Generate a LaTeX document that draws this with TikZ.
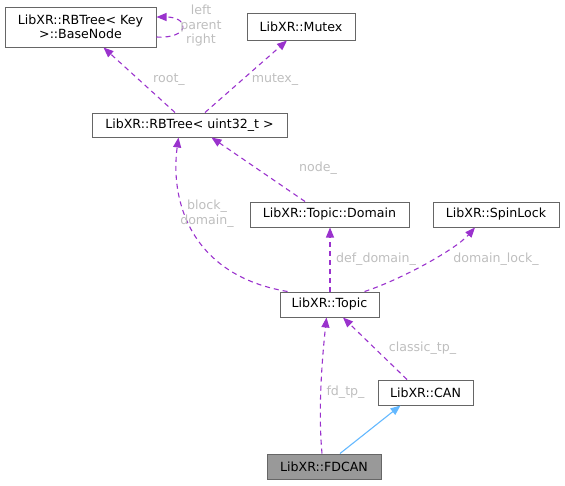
\documentclass[tikz,border=0pt]{standalone}
\usepackage{fontspec}
\setmainfont{DejaVu Sans}
\usetikzlibrary{arrows.meta}
\definecolor{edgepurple}{HTML}{9A32CD}
\definecolor{edgeblue}{HTML}{63B8FF}
\definecolor{boxgray}{HTML}{666666}
\definecolor{labelgray}{HTML}{BEBEBE}
\definecolor{selfgray}{HTML}{999999}

\begin{document}
\begin{tikzpicture}[x=1pt,y=-1pt,
		cls/.style={draw=boxgray, line width=1pt, fill=white, inner sep=0pt, align=center, font=\fontsize{12.6}{14}\selectfont},
		usage/.style={draw=edgepurple, line width=1.1pt, dash pattern=on 5pt off 4pt, -{Triangle[length=10pt,width=8pt]}},
		inherit/.style={draw=edgeblue, line width=1.1pt, -{Triangle[length=10pt,width=8pt]}},
		lbl/.style={text=labelgray, font=\fontsize{12.6}{14.5}\selectfont, align=center, inner sep=0pt}]
		\useasboundingbox (0,0) rectangle (565,485);
		% classes
		\node[cls, minimum width=151pt, minimum height=40pt] (base) at (80.5,27) {LibXR::RBTree< Key\\>::BaseNode};
		\node[cls, minimum width=108pt, minimum height=27pt] (mutex) at (301,26.5) {LibXR::Mutex};
		\node[cls, minimum width=195pt, minimum height=24pt] (rbtree) at (189.5,125) {LibXR::RBTree< uint32\_t >};
		\node[cls, minimum width=159pt, minimum height=25pt] (domain) at (329.5,214.5) {LibXR::Topic::Domain};
		\node[cls, minimum width=126pt, minimum height=25pt] (spinlock) at (496,214.5) {LibXR::SpinLock};
		\node[cls, minimum width=99pt, minimum height=25pt] (topic) at (329.5,304.5) {LibXR::Topic};
		\node[cls, minimum width=95pt, minimum height=25pt] (can) at (425.5,392.5) {LibXR::CAN};
		\node[cls, fill=selfgray, minimum width=114pt, minimum height=25pt] (fdcan) at (324,466.5) {LibXR::FDCAN};
		% members
		\draw[usage] ([yshift=-10pt]base.east) .. controls (190,39) and (190,17) .. ([yshift=10pt]base.east);
		\node[lbl] (lbase) at (201,26) {left\\parent\\right};
		\draw[usage] ([xshift=-14.5pt]rbtree.north) -- ([xshift=23pt]base.south);
		\node[lbl] (lroot) at (169,80) {root\_};
		\draw[usage] ([xshift=15.5pt]rbtree.north) -- ([xshift=-14pt]mutex.south);
		\node[lbl] (lmutex) at (275,80) {mutex\_};
		\draw[usage] ([xshift=-24.5pt]domain.north) -- ([xshift=22pt]rbtree.south);
		\node[lbl] (lnode) at (318,168) {node\_};
		\draw[usage] ([xshift=-42pt]topic.north) .. controls (190,275) and (170,200) .. ([xshift=-11pt]rbtree.south);
		\node[lbl] (lblock) at (207,213.5) {block\_\\domain\_};
		\draw[usage] ([xshift=0.5pt]topic.north) -- ([xshift=0.5pt]domain.south);
		\node[lbl] (ldef) at (376,259) {def\_domain\_};
		\draw[usage] ([xshift=35pt]topic.north) .. controls (400,280) and (455,250) .. ([xshift=-21pt]spinlock.south);
		\node[lbl] (llock) at (496,259) {domain\_lock\_};
		\draw[usage] ([xshift=-18.5pt]can.north) -- ([xshift=13.5pt]topic.south);
		\node[lbl] (lclassic) at (422.5,348) {classic\_tp\_};
		\draw[usage] ([xshift=-2pt]fdcan.north) .. controls (318,410) and (322,360) .. ([xshift=-3pt]topic.south);
		\node[lbl] (lfd) at (345.5,392) {fd\_tp\_};
		% base class
		\draw[inherit] ([xshift=16pt]fdcan.north) -- ([xshift=-25pt]can.south);
	\end{tikzpicture}
\end{document}
